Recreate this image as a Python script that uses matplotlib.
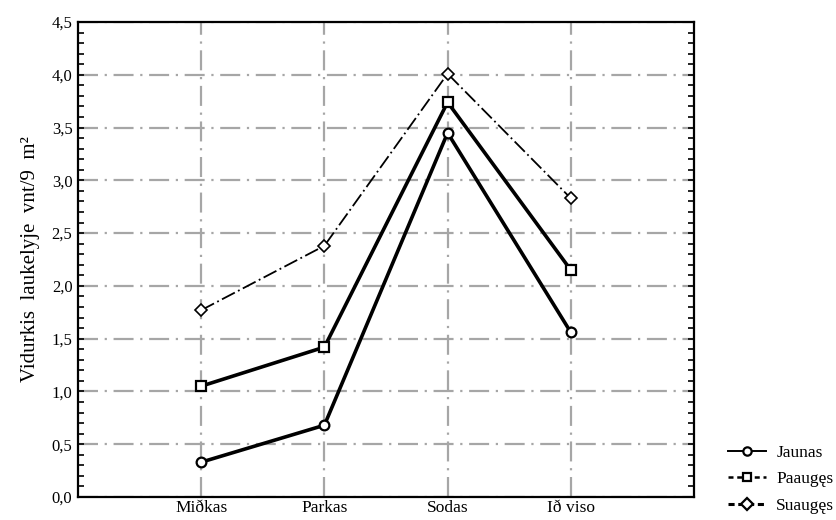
import matplotlib.pyplot as plt
from matplotlib.lines import Line2D
from matplotlib.ticker import MultipleLocator, FuncFormatter

plt.rcParams["font.family"] = ["Liberation Serif", "DejaVu Serif"]

# ---------------------------------------------------------------------------
# DATA
# ---------------------------------------------------------------------------
categories = ["Miðkas", "Parkas", "Sodas", "Ið viso"]
jaunas = [0.33, 0.68, 3.45, 1.56]
paauges = [1.05, 1.42, 3.74, 2.15]
suauges = [1.77, 2.38, 4.01, 2.83]
series_names = ["Jaunas", "Paaugęs", "Suaugęs"]

x = list(range(1, len(categories) + 1))

fig = plt.figure(figsize=(8.37, 5.2), dpi=100)
ax = fig.add_axes([78 / 837, 23 / 520, 616 / 837, 475 / 520])

grid_style = dict(color="#a6a6a6", linewidth=1.6, linestyle=(0, (9, 3, 1, 3)))
ax.grid(True, which="major", axis="both", **grid_style)
ax.set_axisbelow(True)

ax.plot(x, suauges, color="black", linewidth=1.3, linestyle=(0, (8, 2, 1, 2)),
        marker="D", markersize=6, markerfacecolor="white",
        markeredgecolor="black", markeredgewidth=1.2, zorder=3)
ax.plot(x, paauges, color="black", linewidth=2.6,
        marker="s", markersize=6.5, markerfacecolor="white",
        markeredgecolor="black", markeredgewidth=1.6, zorder=3)
ax.plot(x, jaunas, color="black", linewidth=2.6,
        marker="o", markersize=7, markerfacecolor="white",
        markeredgecolor="black", markeredgewidth=1.6, zorder=3)

ax.set_xlim(0, 5)
ax.set_ylim(0, 4.5)
ax.set_xticks(x)
ax.set_xticklabels(categories, fontsize=12.5)
ax.yaxis.set_major_locator(MultipleLocator(0.5))
ax.yaxis.set_minor_locator(MultipleLocator(0.1))
ax.yaxis.set_major_formatter(FuncFormatter(lambda v, p: f"{v:.1f}".replace(".", ",")))
ax.tick_params(axis="y", which="both", direction="in", right=True,
               length=4, width=1.2, labelsize=12, pad=4)
ax.tick_params(axis="x", length=0, pad=2.5)
ax.set_ylabel("Vidurkis  laukelyje  vnt/9  m²", fontsize=15, labelpad=8)

for side in ["left", "right", "top", "bottom"]:
    ax.spines[side].set_linewidth(1.6)

handles = [
    Line2D([], [], color="black", linewidth=1.4, marker="o", markersize=6,
           markerfacecolor="white", markeredgewidth=1.6),
    Line2D([], [], color="black", linewidth=1.8, linestyle=(0, (2, 1.5)),
           marker="s", markersize=6, markerfacecolor="white", markeredgewidth=1.6),
    Line2D([], [], color="black", linewidth=2.2, linestyle=(0, (2, 1.2)),
           marker="D", markersize=6, markerfacecolor="white", markeredgewidth=1.6),
]
fig.legend(handles, series_names, loc="lower left", bbox_to_anchor=(712 / 837, -0.018),
           frameon=False, fontsize=12.5, handlelength=2.2, handletextpad=0.6,
           labelspacing=0.6)

fig.savefig("out.png", dpi=100)
